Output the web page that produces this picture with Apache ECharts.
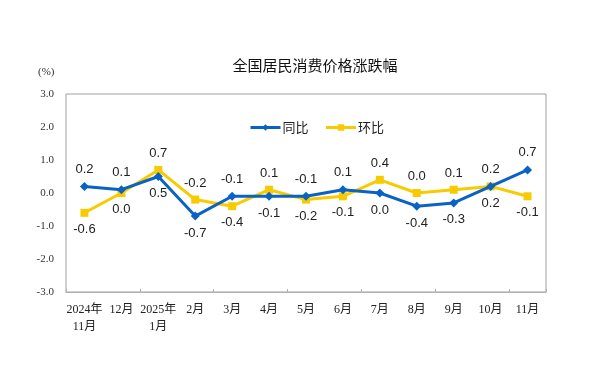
<!DOCTYPE html>
<html><head><meta charset="utf-8">
<script src="https://cdn.jsdelivr.net/npm/echarts@6/dist/echarts.min.js"></script>
<style>html,body{margin:0;padding:0;background:#fff}#c{width:600px;height:366px}</style>
</head><body><div id="c"></div>
<script>
var categories = ['2024年\n11月','12月','2025年\n1月','2月','3月','4月','5月','6月','7月','8月','9月','10月','11月'];
var yoy = [0.2, 0.1, 0.5, -0.7, -0.1, -0.1, -0.1, 0.1, 0.0, -0.4, -0.3, 0.2, 0.7];
var mom = [-0.6, 0.0, 0.7, -0.2, -0.4, 0.1, -0.2, -0.1, 0.4, 0.0, 0.1, 0.2, -0.1];
var yTicks = [-3, -2, -1, 0, 1, 2, 3];

var yoyPos = ['top','top','bottom','bottom','top','bottom','top','top','bottom','bottom','bottom','bottom','top'];
var momPos = ['bottom','bottom','top','top','bottom','top','bottom','bottom','top','top','top','top','bottom'];

function mk(vals, pos){
  return vals.map(function(v,i){ return {value:v, label:{position:pos[i]}}; });
}
var lblStyle = {show:true, fontFamily:'Liberation Sans, Arial', fontSize:13, color:'#222', distance:6,
  formatter:function(p){return p.value.toFixed(1);}};

var chart = echarts.init(document.getElementById('c'));
chart.setOption({
  animation:false,
  backgroundColor:'#fff',
  title:{text:'全国居民消费价格涨跌幅', left:310, top:53, textAlign:'center',
    textStyle:{fontSize:15, fontWeight:'normal', color:'#111', fontFamily:'Noto Sans CJK SC'}},
  graphic:[{type:'text', left:38, top:67, style:{text:'(%)', fontSize:11, fill:'#333', fontFamily:'Liberation Serif'}}],
  legend:{top:116, left:244, itemGap:16, itemWidth:30, itemHeight:8,
    lineStyle:{width:3},
    textStyle:{fontSize:13, color:'#222', fontFamily:'Noto Sans CJK SC', padding:[0,0,0,-3]},
    data:['同比','环比']},
  grid:{left:66, right:54, top:94, bottom:74, show:true, borderColor:'#a0a0a0', borderWidth:1},
  xAxis:[{type:'category', data:categories, boundaryGap:true,
    axisLine:{show:false}, axisTick:{show:false},
    axisLabel:{fontSize:12, color:'#222', fontFamily:'Liberation Serif, Noto Sans CJK SC', margin:9, lineHeight:17, interval:0}},
    {type:'category', data:categories, boundaryGap:true, position:'bottom',
    axisLine:{show:true, onZero:true, lineStyle:{color:'#b0b0b0', width:1}},
    axisTick:{show:true, inside:true, length:3, lineStyle:{color:'#b0b0b0'}},
    axisLabel:{show:false}}],
  yAxis:{type:'value', min:yTicks[0], max:yTicks[yTicks.length-1], interval:1,
    splitLine:{show:false}, axisLine:{show:false}, axisTick:{show:false},
    axisLabel:{fontSize:11, color:'#333', fontFamily:'Liberation Serif', margin:12,
      formatter:function(v){return v.toFixed(1);}}},
  series:[
    {name:'同比', type:'line', data:mk(yoy, yoyPos), symbol:'diamond', symbolSize:9, z:3,
      lineStyle:{color:'#0a62c4', width:3}, itemStyle:{color:'#0a62c4'}, label:lblStyle},
    {name:'环比', type:'line', data:mk(mom, momPos), symbol:'rect', symbolSize:8, z:2,
      lineStyle:{color:'#f8cb00', width:3}, itemStyle:{color:'#f8cb00'}, label:lblStyle}
  ]
});
</script></body></html>
